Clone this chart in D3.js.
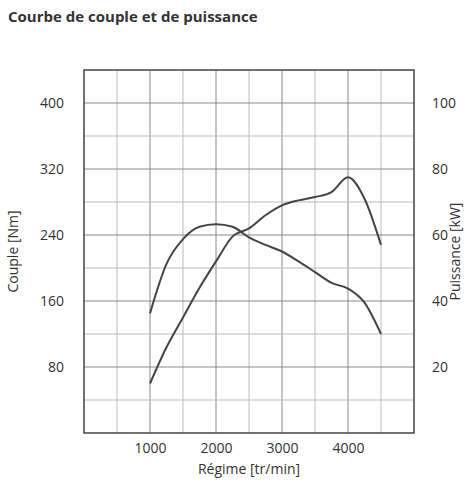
<!DOCTYPE html>
<html><head><meta charset="utf-8">
<script src="https://cdn.jsdelivr.net/npm/d3@7"></script>
<style>body{margin:0;background:#fff}text{font-family:"Open Sans",sans-serif;fill:#333}</style>
</head><body><svg id="c" width="472" height="489"></svg>
<script>
var rpm = [1000,1250,1500,1750,2000,2250,2500,2750,3000,3250,3500,3750,4000,4250,4500]
var couple = [145,205,235,250,253,250,237,228,220,208,195,182,175,158,120]
var puissance = [15,26,35,44,52,59.5,62,66,69,70.5,71.5,73,77.5,71,57]
var xTicks = [1000,2000,3000,4000]
var yTicks = [80,160,240,320,400]
var y2Ticks = [20,40,60,80,100]

var svg = d3.select('#c')
var x = d3.scaleLinear().domain([0,5000]).range([84,414])
var y = d3.scaleLinear().domain([0,440]).range([433,70])
var y2 = d3.scaleLinear().domain([0,110]).range([433,70])

var g = svg.append('g')
d3.range(500,5000,500).forEach(function (v) {
  g.append('line').attr('x1',x(v)).attr('x2',x(v)).attr('y1',y(0)).attr('y2',y(440))
    .attr('stroke', v%1000 ? '#bbb' : '#888').attr('stroke-width',1)
})
d3.range(40,440,40).forEach(function (v) {
  g.append('line').attr('x1',x(0)).attr('x2',x(5000)).attr('y1',y(v)).attr('y2',y(v))
    .attr('stroke', v%80 ? '#bbb' : '#888')
})
g.append('rect').attr('x',x(0)).attr('y',y(440)).attr('width',x(5000)-x(0)).attr('height',y(0)-y(440))
  .attr('fill','none').attr('stroke','#444').attr('stroke-width',1.5)

svg.append('g').attr('transform','translate(0,'+y(0)+')')
  .call(d3.axisBottom(x).tickValues(xTicks).tickFormat(d3.format('d')).tickSize(0).tickPadding(10))
  .call(function (a) { a.select('.domain').remove(); a.selectAll('text').style('font-size','14px') })
svg.append('g').attr('transform','translate('+(x(0)-12)+',0)')
  .call(d3.axisLeft(y).tickValues(yTicks).tickSize(0).tickPadding(8))
  .call(function (a) { a.select('.domain').remove(); a.selectAll('text').style('font-size','14px') })
svg.append('g').attr('transform','translate('+(x(5000)+10)+',0)')
  .call(d3.axisRight(y2).tickValues(y2Ticks).tickSize(0).tickPadding(8))
  .call(function (a) { a.select('.domain').remove(); a.selectAll('text').style('font-size','14px') })

var line = function (s, vals) {
  return d3.line().curve(d3.curveMonotoneX).x(function (d,i) { return x(rpm[i]) }).y(function (d) { return s(d) })(vals)
}
svg.append('path').attr('d', line(y, couple)).attr('fill','none').attr('stroke','#444').attr('stroke-width',2)
svg.append('path').attr('d', line(y2, puissance)).attr('fill','none').attr('stroke','#444').attr('stroke-width',2)

svg.append('text').attr('x',8).attr('y',22).text('Courbe de couple et de puissance')
  .style('font-size','15px').style('font-weight','bold')
svg.append('text').attr('x',x(2500)).attr('y',474).attr('text-anchor','middle').text('Régime [tr/min]').style('font-size','14px')
svg.append('text').attr('transform','translate(18,'+y(220)+') rotate(-90)').attr('text-anchor','middle').text('Couple [Nm]').style('font-size','14px')
svg.append('text').attr('transform','translate(460,'+y(220)+') rotate(-90)').attr('text-anchor','middle').text('Puissance [kW]').style('font-size','14px')
</script></body></html>
